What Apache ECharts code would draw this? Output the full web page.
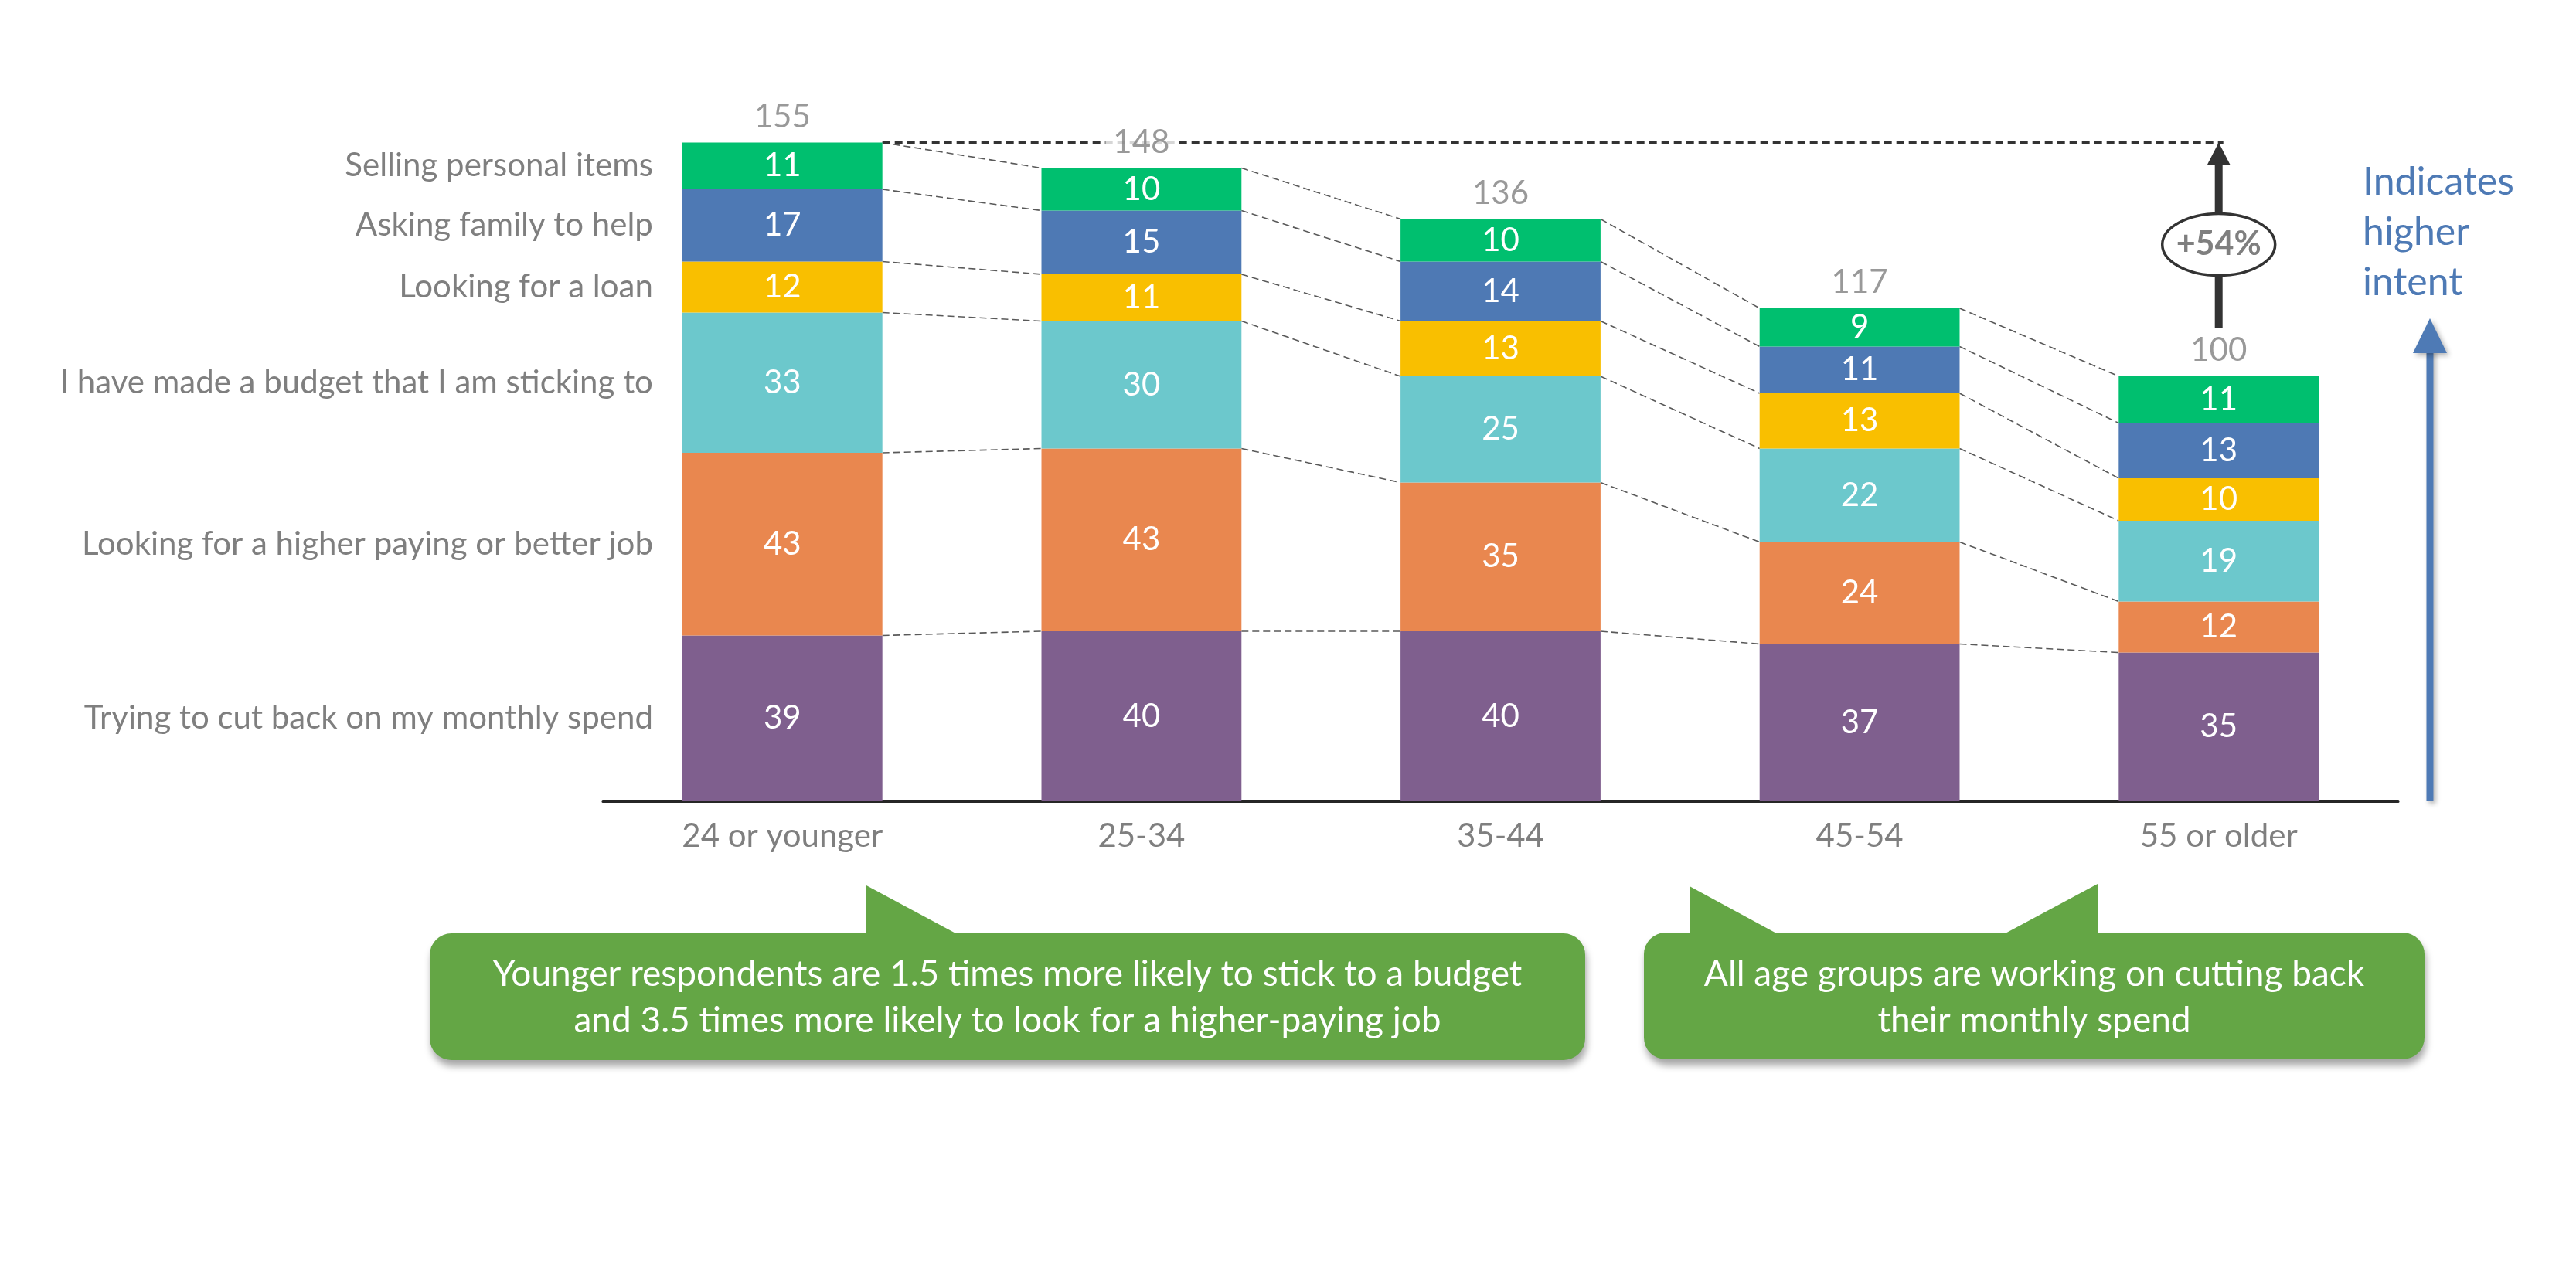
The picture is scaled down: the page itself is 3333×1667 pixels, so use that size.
<!DOCTYPE html>
<html><head><meta charset="utf-8">
<script src="https://cdn.jsdelivr.net/npm/echarts/dist/echarts.min.js"></script>
<style>html,body{margin:0;padding:0;background:#fff}#c{width:3333px;height:1667px}</style>
</head><body><div id="c"></div>
<script>
// ---- data ----
const categories = ['24 or younger', '25-34', '35-44', '45-54', '55 or older'];
const seriesNames = [
  'Trying to cut back on my monthly spend',
  'Looking for a higher paying or better job',
  'I have made a budget that I am sticking to',
  'Looking for a loan',
  'Asking family to help',
  'Selling personal items'
];
const cutBack   = [39, 40, 40, 37, 35];
const betterJob = [43, 43, 35, 24, 12];
const budget    = [33, 30, 25, 22, 19];
const loan      = [12, 11, 13, 13, 10];
const family    = [17, 15, 14, 11, 13];
const selling   = [11, 10, 10, 9, 11];
const totals    = [155, 148, 136, 117, 100];
const changeLabel = '+54%';
const noteLeft  = ['Younger respondents are 1.5 times more likely to stick to a budget', 'and 3.5 times more likely to look for a higher-paying job'];
const noteRight = ['All age groups are working on cutting back', 'their monthly spend'];
const sideNote  = ['Indicates', 'higher', 'intent'];

// ---- styles ----
const values = [cutBack, betterJob, budget, loan, family, selling];
const colors = ['#7F5F8E', '#E9874F', '#6CC8CC', '#F9BF00', '#4E79B4', '#00BF6F'];
const FONT = 'Lato';
const FS = 42;
const GRAY = '#7F7F7F';
const GREEN = '#64A645';
const BLUE = '#4E7AB5';
const BAR_PCT = 0.557;

const stackTops = categories.map((_, i) => values.reduce((s, a) => s + a[i], 0));

const series = values.map((v, k) => ({
  name: seriesNames[k], type: 'bar', stack: 's', barWidth: (BAR_PCT * 100) + '%',
  data: v, itemStyle: { color: colors[k] },
  label: { show: true, position: 'inside', color: '#fff', fontSize: FS, fontFamily: FONT },
  emphasis: { disabled: true }, z: 2
}));
series.push({
  type: 'scatter', data: stackTops, symbolSize: 1, itemStyle: { color: 'rgba(0,0,0,0)' }, z: 10,
  label: { show: true, position: 'top', distance: 12, formatter: p => totals[p.dataIndex],
    color: GRAY, fontSize: FS, fontFamily: FONT, backgroundColor: '#fff', padding: [0, 10] },
  emphasis: { disabled: true }
});

const chart = echarts.init(document.getElementById('c'));
chart.setOption({
  animation: false,
  backgroundColor: '#fff',
  grid: { left: 780, right: 230, top: 157, bottom: 630 },
  xAxis: { type: 'category', data: categories,
    axisLine: { lineStyle: { color: '#262626', width: 3 } },
    axisTick: { show: false },
    axisLabel: { color: GRAY, fontSize: FS, fontFamily: FONT, margin: 24 } },
  yAxis: { type: 'value', min: 0, max: 160, show: false, splitLine: { show: false } },
  series: series
});

// ---- annotations computed through the chart's scales ----
function px(i, v) { return chart.convertToPixel({ gridIndex: 0 }, [i, v]); }
const band = px(1, 0)[0] - px(0, 0)[0];
const half = band * BAR_PCT / 2;
const g = [];

// left category labels at first bar's segment midpoints
let cum = 0;
values.forEach((arr, k) => {
  const mid = px(0, cum + arr[0] / 2);
  cum += arr[0];
  g.push({ type: 'text', z: 5, x: mid[0] - half - 38, y: mid[1],
    style: { text: seriesNames[k], fill: GRAY, font: FS + 'px ' + FONT, textAlign: 'right', textVerticalAlign: 'middle' } });
});

// connector dashed lines
for (let i = 0; i < categories.length - 1; i++) {
  let c0 = 0, c1 = 0;
  for (let k = 0; k < values.length; k++) {
    c0 += values[k][i]; c1 += values[k][i + 1];
    const a = px(i, c0), b = px(i + 1, c1);
    g.push({ type: 'line', z: 1, shape: { x1: a[0] + half, y1: a[1], x2: b[0] - half, y2: b[1] },
      style: { stroke: '#595959', lineWidth: 1.6, lineDash: [9, 5] } });
  }
}

// top reference line and arrow
const topP = px(0, stackTops[0]);
const last = categories.length - 1;
const lastX = px(last, 0)[0];
const lastTop = px(last, stackTops[last])[1];
g.push({ type: 'line', z: 1, shape: { x1: topP[0] + half, y1: topP[1], x2: lastX + 6, y2: topP[1] },
  style: { stroke: '#333', lineWidth: 3, lineDash: [10, 6] } });
const ellCY = topP[1] + 132;
g.push({ type: 'polygon', z: 3, shape: { points: [[lastX, topP[1]], [lastX - 15, topP[1] + 29], [lastX + 15, topP[1] + 29]] }, style: { fill: '#333' } });
g.push({ type: 'rect', z: 3, shape: { x: lastX - 5, y: topP[1] + 26, width: 10, height: ellCY - 40 - topP[1] - 26 }, style: { fill: '#333' } });
g.push({ type: 'rect', z: 3, shape: { x: lastX - 5, y: ellCY + 40, width: 10, height: (lastTop - 63) - (ellCY + 40) }, style: { fill: '#333' } });
g.push({ type: 'ellipse', z: 4, shape: { cx: lastX, cy: ellCY, rx: 73, ry: 40 }, style: { fill: '#fff', stroke: '#333', lineWidth: 3.5 } });
g.push({ type: 'text', z: 5, x: lastX, y: ellCY,
  style: { text: changeLabel, fill: GRAY, font: 'bold 43px ' + FONT, textAlign: 'center', textVerticalAlign: 'middle' } });

// blue intent arrow
const axisY = px(0, 0)[1];
const bx = 3144;
g.push({ type: 'group', z: 3, children: [
  { type: 'rect', shape: { x: bx - 4.5, y: 452, width: 9, height: axisY - 452 },
    style: { fill: BLUE, shadowBlur: 6, shadowOffsetX: 3, shadowOffsetY: 3, shadowColor: 'rgba(0,0,0,0.3)' } },
  { type: 'polygon', shape: { points: [[bx, 412], [bx - 22, 457], [bx + 22, 457]] },
    style: { fill: BLUE, shadowBlur: 6, shadowOffsetX: 3, shadowOffsetY: 3, shadowColor: 'rgba(0,0,0,0.3)' } }
] });
sideNote.forEach((t, i) => {
  g.push({ type: 'text', z: 5, x: 3057, y: 236 + i * 65,
    style: { text: t, fill: BLUE, font: '50px ' + FONT, textAlign: 'left', textVerticalAlign: 'middle' } });
});

// callouts
function callout(x1, x2, y1, y2, tails, lines, lineYs) {
  const sh = { shadowBlur: 10, shadowOffsetY: 8, shadowOffsetX: 2, shadowColor: 'rgba(0,0,0,0.35)' };
  const children = [{ type: 'rect', shape: { x: x1, y: y1, width: x2 - x1, height: y2 - y1, r: 28 }, style: Object.assign({ fill: GREEN }, sh) }];
  tails.forEach(p => children.push({ type: 'polygon', shape: { points: p }, style: { fill: GREEN } }));
  const cx = (x1 + x2) / 2;
  lines.forEach((t, i) => children.push({ type: 'text', x: cx, y: lineYs[i],
    style: { text: t, fill: '#fff', font: '46px ' + FONT, textAlign: 'center', textVerticalAlign: 'middle' } }));
  return { type: 'group', z: 6, children: children };
}
g.push(callout(556, 2051, 1208, 1372,
  [[[1121, 1146], [1121, 1212], [1244, 1212]]], noteLeft, [1261, 1321]));
g.push(callout(2127, 3137, 1207, 1371,
  [[[2186, 1147], [2186, 1211], [2304, 1211]], [[2714, 1144], [2714, 1211], [2589, 1211]]], noteRight, [1261, 1321]));

chart.setOption({ graphic: g });
</script>
</body></html>
